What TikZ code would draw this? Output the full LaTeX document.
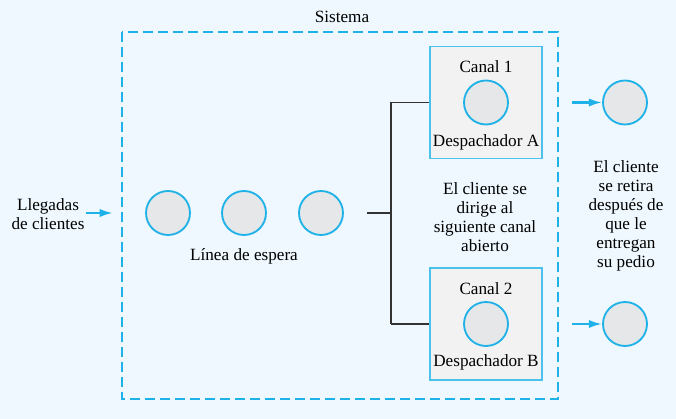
\documentclass[tikz,border=0pt]{standalone}
\usepackage{fontspec}
\setmainfont{Liberation Serif}
\usetikzlibrary{arrows.meta}
\definecolor{fondo}{RGB}{238,248,254}
\definecolor{celeste}{RGB}{30,178,232}
\definecolor{grisclaro}{RGB}{242,242,242}
\definecolor{griscirc}{RGB}{230,231,232}
\begin{document}
\begin{tikzpicture}[x=0.6pt,y=-0.6pt,
  font=\fontsize{10.3}{11.4}\selectfont,
  txt/.style={inner sep=0pt,align=center},
  cliente/.style={circle,draw=celeste,fill=griscirc,line width=1.1pt,minimum size=26.4pt,inner sep=0pt},
  canal/.style={rectangle,draw=celeste!80,fill=grisclaro,line width=0.8pt,minimum width=67.2pt,minimum height=67.2pt},
  flecha/.style={-{Latex[length=8pt,width=5pt]},celeste,line width=1.4pt},
  rama/.style={draw=black!80,line width=0.9pt}]
\def\yA{102.5}
\def\yQ{213}
\def\yB{324}
\fill[fondo] (0,0) rectangle (676,419);
\useasboundingbox (0,0) rectangle (676,419);
\draw[celeste,line width=1.2pt,dash pattern=on 6pt off 3pt] (122,32) rectangle (558,399);
\path
(342,17) node [txt] (sistema) {Sistema}
(48,214) node [txt] (llegadas) {Llegadas\\de clientes}
(168,\yQ) node [cliente] (q1) {}
(244,\yQ) node [cliente] (q2) {}
(321,\yQ) node [cliente] (q3) {}
(244,256) node [txt] (linea) {Línea de espera}
(486,\yA) node [canal] (canal1) {}
(486,\yB) node [canal] (canal2) {}
(486,\yA) node [cliente] (s1) {}
(486,\yB) node [cliente] (s2) {}
(486,67) node [txt] (tit1) {Canal 1}
(486,142) node [txt] (desp1) {Despachador A}
(486,289) node [txt] (tit2) {Canal 2}
(486,362) node [txt] (desp2) {Despachador B}
(485,217) node [txt] (dirige) {El cliente se\\dirige al\\siguiente canal\\abierto}
(626,216) node [txt] (retira) {El cliente\\se retira\\después de\\que le\\entregan\\su pedio}
(625,\yA) node [cliente] (sal1) {}
(625,\yB) node [cliente] (sal2) {}
;
\coordinate (entra) at (113,\yQ);
\coordinate (sale1) at (572,\yA);
\coordinate (sale2) at (572,\yB);
\coordinate (cola) at (367,\yQ);
\coordinate (nudo) at (391,\yQ);
\draw[flecha] (llegadas.east |- entra) ++(1pt,0) -- (entra);
\draw[flecha] (sale1) -- (sal1.west);
\draw[flecha] (sale2) -- (sal2.west);
\begin{scope}[every path/.style=rama]
\path (cola) -- (nudo);
\path (nudo |- canal1.west) -- (canal1.west);
\path (nudo |- canal2.west) -- (canal2.west);
\path (nudo |- canal1.west) -- (nudo |- canal2.west);
\end{scope}
\end{tikzpicture}
\end{document}
